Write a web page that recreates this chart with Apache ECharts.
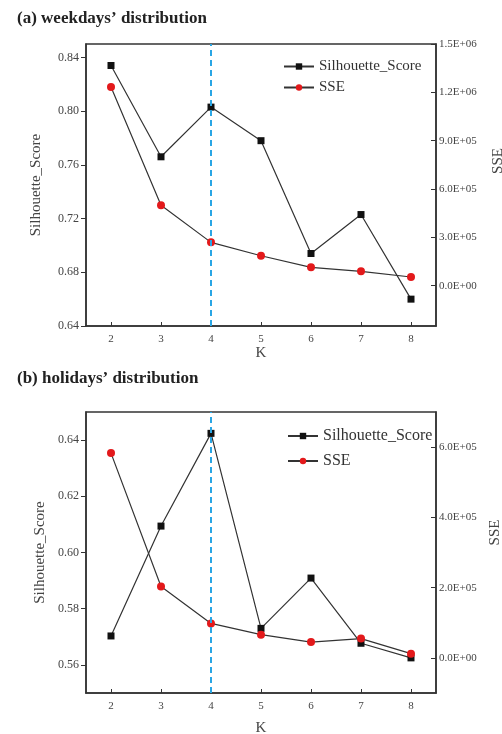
<!DOCTYPE html>
<html lang="en">
<head>
    <meta charset="UTF-8">
    <title>Silhouette score and SSE</title>
    <script src="https://cdn.jsdelivr.net/npm/echarts@6/dist/echarts.min.js"></script>
    <style>
        body { margin: 0; background: #fff; }
        #main { width: 502px; height: 734px; }
    </style>
</head>
<body>
    <div id="main"></div>
    <script>
        // data
        var kValues = [2, 3, 4, 5, 6, 7, 8];
        var weekdaySil = [0.834, 0.766, 0.803, 0.778, 0.694, 0.723, 0.660];
        var weekdaySSE = [1233000, 499000, 269000, 186000, 114000, 89000, 54000];
        var holidaySil = [0.5703, 0.6094, 0.6424, 0.573, 0.5909, 0.5677, 0.5625];
        var holidaySSE = [583000, 203000, 98000, 66000, 45000, 55000, 12000];
        var bestK = 4;

        var silTicksA = [0.64, 0.68, 0.72, 0.76, 0.80, 0.84];
        var sseTicksA = [0, 300000, 600000, 900000, 1200000, 1500000];
        var silTicksB = [0.56, 0.58, 0.60, 0.62, 0.64];
        var sseTicksB = [0, 200000, 400000, 600000];

        var serif = '"Liberation Serif", "DejaVu Serif", serif';
        var axisColor = '#333';
        var labelColor = '#444';

        function pairs(vals) {
            return kValues.map(function (k, i) { return [k, vals[i]]; });
        }
        // 1200000 -> "1.2E+06"
        function sci(v) {
            if (v === 0) return '0.0E+00';
            var e = Math.floor(Math.log10(Math.abs(v)));
            var m = v / Math.pow(10, e);
            return m.toFixed(1) + 'E' + (e < 0 ? '-' : '+') + (Math.abs(e) < 10 ? '0' : '') + Math.abs(e);
        }

        function xAxisOf(gi, gap) {
            return {
                type: 'value', gridIndex: gi, min: 1.5, max: 8.5,
                name: 'K', nameLocation: 'middle', nameGap: gap,
                nameTextStyle: { fontFamily: serif, fontSize: 15, color: labelColor },
                axisLine: { onZero: false, lineStyle: { color: axisColor, width: 1.5 } },
                axisTick: { inside: true, length: 4, customValues: kValues, lineStyle: { color: axisColor } },
                axisLabel: { customValues: kValues, fontFamily: serif, fontSize: 11, color: labelColor, margin: 8 },
                splitLine: { show: false }
            };
        }
        function leftAxis(gi, min, max, ticks, gap) {
            return {
                type: 'value', gridIndex: gi, min: min, max: max, position: 'left',
                name: 'Silhouette_Score', nameLocation: 'middle', nameGap: gap,
                nameTextStyle: { fontFamily: serif, fontSize: 15, color: labelColor },
                axisLine: { show: true, onZero: false, lineStyle: { color: axisColor, width: 1.5 } },
                axisTick: { show: true, length: 5, customValues: ticks, lineStyle: { color: axisColor } },
                axisLabel: {
                    customValues: ticks, fontFamily: serif, fontSize: 12, color: labelColor, margin: 7,
                    formatter: function (v) { return v.toFixed(2); }
                },
                splitLine: { show: false }
            };
        }
        function rightAxis(gi, min, max, ticks, gap, pad) {
            return {
                type: 'value', gridIndex: gi, min: min, max: max, position: 'right',
                name: 'SSE', nameLocation: 'middle', nameGap: gap,
                nameTextStyle: { fontFamily: serif, fontSize: 15, color: labelColor, padding: [0, 0, 0, pad] },
                axisLine: { show: true, onZero: false, lineStyle: { color: axisColor, width: 1.5 } },
                axisTick: { show: true, inside: true, length: 5, customValues: ticks, lineStyle: { color: axisColor } },
                axisLabel: {
                    customValues: ticks, fontFamily: serif, fontSize: 11, color: labelColor, margin: 3,
                    formatter: sci
                },
                splitLine: { show: false }
            };
        }
        function silSeries(gi, vals) {
            return {
                name: 'Silhouette_Score', type: 'line',
                xAxisIndex: gi, yAxisIndex: gi * 2,
                data: pairs(vals),
                symbol: 'rect', symbolSize: 7,
                itemStyle: { color: '#111' },
                lineStyle: { color: '#333', width: 1.2 },
                emphasis: { disabled: true },
                markLine: {
                    silent: true, symbol: 'none', label: { show: false },
                    lineStyle: { color: '#2aa6e4', type: [6, 4], width: 2 },
                    data: [{ xAxis: bestK }]
                }
            };
        }
        function sseSeries(gi, vals) {
            return {
                name: 'SSE', type: 'line',
                xAxisIndex: gi, yAxisIndex: gi * 2 + 1,
                data: pairs(vals),
                symbol: 'circle', symbolSize: 8,
                itemStyle: { color: '#e3191b' },
                lineStyle: { color: '#333', width: 1.2 },
                emphasis: { disabled: true }
            };
        }

        var chart = echarts.init(document.getElementById('main'));
        chart.setOption({
            backgroundColor: '#fff',
            animation: false,
            title: [
                { text: '(a) weekdays\u2019 distribution', left: 12, top: 5,
                  textStyle: { fontFamily: serif, fontWeight: 'bold', fontSize: 17, color: '#222' } },
                { text: '(b) holidays\u2019 distribution', left: 12, top: 365,
                  textStyle: { fontFamily: serif, fontWeight: 'bold', fontSize: 17, color: '#222' } }
            ],
            legend: [
                { data: ['Silhouette_Score', 'SSE'], orient: 'vertical', left: 278, top: 54,
                  itemWidth: 30, itemHeight: 8, itemGap: 6,
                  textStyle: { fontFamily: serif, fontSize: 15, color: '#333' } },
                { data: ['Silhouette_Score', 'SSE'], orient: 'vertical', left: 282, top: 423,
                  itemWidth: 30, itemHeight: 8, itemGap: 9,
                  textStyle: { fontFamily: serif, fontSize: 16, color: '#333' } }
            ],
            grid: [
                { left: 86, top: 44, width: 350, height: 282, outerBoundsMode: 'none',
                  show: true, borderColor: axisColor, borderWidth: 1.5 },
                { left: 86, top: 412, width: 350, height: 281, outerBoundsMode: 'none',
                  show: true, borderColor: axisColor, borderWidth: 1.5 }
            ],
            xAxis: [xAxisOf(0, 20), xAxisOf(1, 28)],
            yAxis: [
                leftAxis(0, 0.64, 0.85, silTicksA, 42),
                rightAxis(0, -250000, 1500000, sseTicksA, 55, 48),
                leftAxis(1, 0.55, 0.65, silTicksB, 36),
                rightAxis(1, -100000, 700000, sseTicksB, 50, 40)
            ],
            series: [
                silSeries(0, weekdaySil),
                sseSeries(0, weekdaySSE),
                silSeries(1, holidaySil),
                sseSeries(1, holidaySSE)
            ]
        });
    </script>
</body>
</html>
